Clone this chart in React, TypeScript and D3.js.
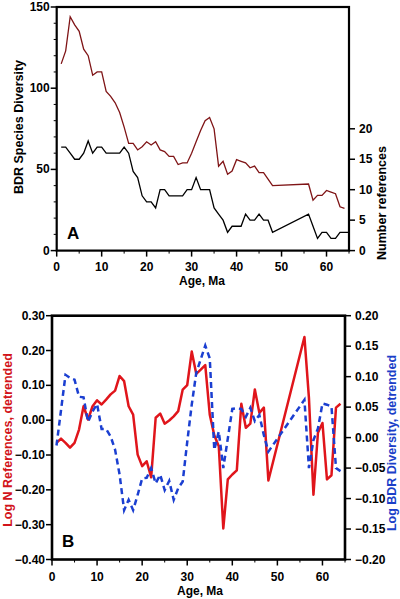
import React from "react";
import * as d3 from "d3";

// ---- Panel A data ----
const divAges = [1,2,3,4,5,6,7,8,9,10,11,12,13,14,15,16,17,18,19,20,21,22,23,24,25,26,27,28,29,30,31,32,33,34,35,36,37,38,39,40,41,42,43,44,45,46,47,48,56,57,58,59,60,61,62,63,64];
const diversity = [115,123,144,139,135,124,120,108,110,110,98,95,91,85,76,66,66,62,64,67,65,67,62,61,58,58,53,54,54,60,67,74,80,82,75,52,55,47,49,56,55,54,51,52,48,48,44,40,41,31,34,34,37,36,35,27,26];
const refAges = [1,2,3,4,5,6,7,8,9,10,11,12,13,14,15,16,17,18,19,20,21,22,23,24,25,26,27,28,29,30,31,32,33,34,35,36,37,38,39,40,41,42,43,44,45,46,47,48,56,57,58,59,60,61,62,63,64,65];
const numRefs = [17,17,16,15,15,16,18,16,17,17,16,16,16,16,17,16,13,12,9,8,8,7,10,10,9,9,9,9,10,10,12,10,10,10,7,6,5,3,4,4,4,6,5,5,6,5,5,3,6,4,2,3,3,2,2,3,3,3];

// ---- Panel B data ----
const logNAges = [1,2,3,4,5,6,7,8,9,10,11,12,13,14,15,16,17,18,19,20,21,22,23,24,25,26,27,28,29,30,31,32,33,34,35,36,37,38,39,40,41,42,43,44,45,46,47,48,56,57,58,59,60,61,62,63,64];
const logNRefs = [-0.065,-0.053,-0.065,-0.079,-0.065,-0.027,0.040,0.002,0.040,0.057,0.045,0.059,0.074,0.085,0.127,0.112,0.040,0.016,-0.099,-0.132,-0.118,-0.164,0.007,0.019,-0.010,-0.001,0.011,0.026,0.088,0.101,0.197,0.133,0.145,0.158,0.016,-0.043,-0.075,-0.311,-0.170,-0.156,-0.144,0.047,-0.022,-0.010,0.088,0.021,0.036,-0.173,0.239,0.064,-0.214,-0.036,-0.008,-0.170,-0.158,0.036,0.047];
const logDivAges = [1,3,4,5,6,7,8,9,10,11,12,13,14,15,16,17,18,19,20,21,22,23,24,25,26,27,28,29,30,31,32,34,35,36,37,38,40,41,42,43,44,45,46,47,48,56,57,58,59,60,61,62,63,64];
const logDiv = [-0.013,0.103,0.098,0.095,0.067,0.066,0.026,0.043,0.055,0.014,0.014,0.002,-0.020,-0.061,-0.119,-0.102,-0.119,-0.094,-0.067,-0.066,-0.050,-0.075,-0.061,-0.086,-0.071,-0.102,-0.083,-0.072,-0.007,0.054,0.106,0.151,0.130,-0.020,0.010,-0.050,0.047,0.048,0.047,0.034,0.049,0.027,0.037,0.004,-0.023,0.062,-0.050,-0.004,0.015,0.056,0.054,0.051,-0.050,-0.055];

// ---- Tick labels ----
const xTicks = [0,10,20,30,40,50,60];
const xMinor = [5,15,25,35,45,55,65];
const divTicks = [0,50,100,150];
const divMinor = [10,20,30,40,60,70,80,90,110,120,130,140];
const refTicks = [0,5,10,15,20];
const logNTicks = [-0.4,-0.3,-0.2,-0.1,0,0.1,0.2,0.3];
const logDivTicks = [-0.2,-0.15,-0.1,-0.05,0,0.05,0.1,0.15,0.2];

const FONT = "'Liberation Sans', Arial, Helvetica, sans-serif";

function T(props: { x: number; y: number; anchor?: string; size?: number; rot?: boolean; fill?: string; children: any }) {
  const { x, y, anchor = "middle", size = 12, rot = false, fill = "#000" } = props;
  return (
    <text
      transform={`translate(${x},${y})${rot ? " rotate(-90)" : ""}`}
      textAnchor={anchor}
      fontFamily={FONT}
      fontWeight="bold"
      fontSize={size}
      fill={fill}
    >
      {props.children}
    </text>
  );
}

export default function App() {
  // Panel A scales
  const xA = d3.scaleLinear().domain([0, 65]).range([56.7, 349]);
  const yA = d3.scaleLinear().domain([0, 150]).range([250.6, 7]);
  const yAR = d3.scaleLinear().domain([0, 40]).range([250.6, 7]);
  // Panel B scales
  const xB = d3.scaleLinear().domain([0, 65]).range([52, 345]);
  const yB = d3.scaleLinear().domain([-0.4, 0.3]).range([559.5, 315.7]);
  const yBR = d3.scaleLinear().domain([-0.2, 0.2]).range([559.5, 315.7]);

  const lineDiv = d3.line<number>().x((_, i) => xA(divAges[i])).y((d) => yA(d));
  const lineRef = d3.line<number>().x((_, i) => xA(refAges[i])).y((d) => yAR(d));
  const lineLogN = d3.line<number>().x((_, i) => xB(logNAges[i])).y((d) => yB(d));
  const lineLogD = d3.line<number>().x((_, i) => xB(logDivAges[i])).y((d) => yBR(d));

  const fmt2 = d3.format(".2f");

  return (
    <svg width={400} height={599} style={{ position: "absolute", left: 0, top: 0, background: "#fff" }}>
      {/* ===== Panel A ===== */}
      <path d={lineDiv(diversity) || ""} fill="none" stroke="#7f1416" strokeWidth={1.3} />
      <path d={lineRef(numRefs) || ""} fill="none" stroke="#000" strokeWidth={1.3} />
      <rect x={xA(0)} y={yA(150)} width={xA(65) - xA(0)} height={yA(0) - yA(150)} fill="none" stroke="#000" strokeWidth={2.2} />
      {divTicks.map((t) => (
        <g key={"dl" + t}>
          <line x1={xA(0) - 6} x2={xA(0)} y1={yA(t)} y2={yA(t)} stroke="#000" strokeWidth={1.5} />
          <T x={xA(0) - 7} y={yA(t) + 4} anchor="end">{t}</T>
        </g>
      ))}
      {divMinor.map((t) => (
        <line key={"dm" + t} x1={xA(0) - 3} x2={xA(0)} y1={yA(t)} y2={yA(t)} stroke="#000" strokeWidth={1} />
      ))}
      {refTicks.map((t) => (
        <g key={"rl" + t}>
          <line x1={xA(65)} x2={xA(65) + 6} y1={yAR(t)} y2={yAR(t)} stroke="#000" strokeWidth={1.5} />
          <T x={xA(65) + 10} y={yAR(t) + 4} anchor="start">{t}</T>
        </g>
      ))}
      {xTicks.map((t) => (
        <g key={"xa" + t}>
          <line x1={xA(t)} x2={xA(t)} y1={yA(0)} y2={yA(0) + 6} stroke="#000" strokeWidth={1.5} />
          <T x={xA(t)} y={271}>{t}</T>
        </g>
      ))}
      {xMinor.map((t) => (
        <line key={"xam" + t} x1={xA(t)} x2={xA(t)} y1={yA(0)} y2={yA(0) + 3} stroke="#000" strokeWidth={1} />
      ))}
      <T x={202} y={285}>Age, Ma</T>
      <T x={23} y={127} rot size={12.5}>BDR Species Diversity</T>
      <T x={386} y={203} rot size={12.5}>Number references</T>
      <T x={67} y={239} anchor="start" size={17}>A</T>

      {/* ===== Panel B ===== */}
      <path d={lineLogN(logNRefs) || ""} fill="none" stroke="#e0151b" strokeWidth={2.5} strokeLinejoin="round" />
      <path d={lineLogD(logDiv) || ""} fill="none" stroke="#1b3fd1" strokeWidth={2.5} strokeDasharray="6,4" />
      <rect x={xB(0)} y={yB(0.3)} width={xB(65) - xB(0)} height={yB(-0.4) - yB(0.3)} fill="none" stroke="#000" strokeWidth={2.6} />
      {logNTicks.map((t) => (
        <g key={"nl" + t}>
          <line x1={xB(0) - 6} x2={xB(0)} y1={yB(t)} y2={yB(t)} stroke="#000" strokeWidth={1.5} />
          <T x={xB(0) - 7} y={yB(t) + 4} anchor="end">{fmt2(t)}</T>
        </g>
      ))}
      {logDivTicks.map((t) => (
        <g key={"bl" + t}>
          <line x1={xB(65)} x2={xB(65) + 6} y1={yBR(t)} y2={yBR(t)} stroke="#000" strokeWidth={1.5} />
          <T x={xB(65) + 10} y={yBR(t) + 4} anchor="start">{fmt2(Math.abs(t) < 1e-9 ? 0 : t)}</T>
        </g>
      ))}
      {xTicks.map((t) => (
        <g key={"xb" + t}>
          <line x1={xB(t)} x2={xB(t)} y1={yB(-0.4)} y2={yB(-0.4) + 6} stroke="#000" strokeWidth={1.5} />
          <T x={xB(t)} y={581}>{t}</T>
        </g>
      ))}
      {xMinor.map((t) => (
        <line key={"xbm" + t} x1={xB(t)} x2={xB(t)} y1={yB(-0.4)} y2={yB(-0.4) + 3} stroke="#000" strokeWidth={1} />
      ))}
      <T x={200} y={595}>Age, Ma</T>
      <T x={12} y={440} rot size={12.5} fill="#d2141b">Log N References, detrended</T>
      <T x={396} y={443} rot size={12.5} fill="#1b3fc8">Log BDR Diversity, detrended</T>
      <T x={62} y={547} anchor="start" size={17}>B</T>
    </svg>
  );
}
